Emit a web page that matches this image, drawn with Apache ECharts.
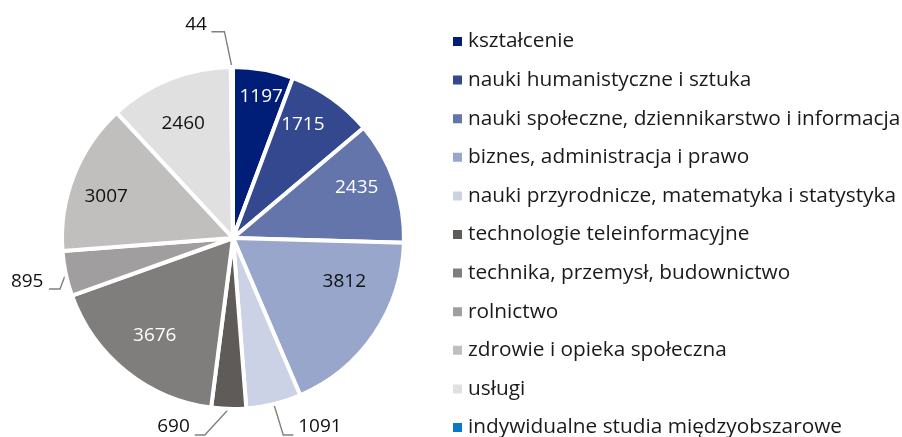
<!DOCTYPE html>
<html>
<head>
<meta charset="utf-8">
<script src="https://cdn.jsdelivr.net/npm/echarts@6/dist/echarts.min.js"></script>
<style>
html,body{margin:0;padding:0;background:#fff;}
#chart{width:902px;height:437px;}
</style>
</head>
<body>
<div id="chart"></div>
<script>
// Data
const categories = [
  'kształcenie',
  'nauki humanistyczne i sztuka',
  'nauki społeczne, dziennikarstwo i informacja',
  'biznes, administracja i prawo',
  'nauki przyrodnicze, matematyka i statystyka',
  'technologie teleinformacyjne',
  'technika, przemysł, budownictwo',
  'rolnictwo',
  'zdrowie i opieka społeczna',
  'usługi',
  'indywidualne studia międzyobszarowe'
];
const values = [1197, 1715, 2435, 3812, 1091, 690, 3676, 895, 3007, 2460, 44];

// Styles
const colors = ['#001e78','#33488f','#6475ab','#97a6ca','#ccd2e5','#5f5b59','#7f7e7c','#a09e9e','#c0bfbd','#e0e0e0','#0a78c8'];
const labelColors = ['#fff','#fff','#fff','#111','#111','#111','#fff','#111','#111','#111','#111'];
const insideLabel = [true,true,true,true,false,false,true,false,true,true,false];
// inside label placement: fraction of radius, angle offset (deg) from slice middle
const insideFrac = [0.846,0.78,0.78,0.70,0,0,0.73,0,0.78,0.73,0];
const insideOff  = [1,-3.6,-2.7,-12.6,0,0,0,0,-3.3,-1.7,0];
// outside label leader: [elbow radius px, angle offset deg, arm px, text gap px, direction, text dy]
const outerSpec = {
  4:  [203.3, -0.5, 10, 5, 1, -8],
  5:  [199, 6.7, 10, 5, -1, -8],
  7:  [180.4, -4.4, 11, 5.5, -1, -7.3],
  10: [206.5, -2.0, 13, 4.5, -1, -7]
};
const CX = 233, CY = 238, R = 171;
const FONT = '"Open Sans", "Noto Sans", sans-serif';

const total = values.reduce((a,b)=>a+b,0);
const midAngles = [];
{ let cum = 0; values.forEach(v => { midAngles.push((cum + v/2) / total * 2 * Math.PI); cum += v; }); }

const data = categories.map((name, i) => ({
  name,
  value: values[i],
  itemStyle: { color: colors[i] },
  label: insideLabel[i]
    ? { position: 'inside', color: labelColors[i] }
    : { position: 'outside', color: '#111' },
  labelLine: { show: !insideLabel[i] }
}));

const chart = echarts.init(document.getElementById('chart'), null, {renderer: 'canvas'});
chart.setOption({
  animation: false,
  legend: {
    orient: 'vertical',
    left: 451,
    top: 31,
    height: 440,
    padding: 0,
    itemWidth: 11,
    itemHeight: 11,
    itemGap: 17.6,
    icon: 'rect',
    selectedMode: false,
    textStyle: { fontFamily: FONT, fontSize: 20.8, color: '#1a1a1a', lineHeight: 21 },
    data: categories
  },
  series: [{
    type: 'pie',
    center: [CX, CY],
    radius: [0, R],
    startAngle: 90,
    clockwise: true,
    avoidLabelOverlap: false,
    itemStyle: { borderColor: '#fff', borderWidth: 4 },
    label: {
      show: true,
      formatter: '{c}',
      fontFamily: FONT,
      fontSize: 19
    },
    labelLine: {
      show: true,
      length: 20,
      length2: 10,
      lineStyle: { color: '#808080', width: 1.4 }
    },
    labelLayout: function (p) {
      const i = p.dataIndex;
      const a = midAngles[i];
      if (insideLabel[i]) {
        const ang = a + insideOff[i] * Math.PI / 180;
        return {
          x: CX + insideFrac[i] * R * Math.sin(ang),
          y: CY - insideFrac[i] * R * Math.cos(ang),
          align: 'center',
          verticalAlign: 'middle'
        };
      }
      const s = outerSpec[i];
      const ea = a + s[1] * Math.PI / 180;
      const ex = CX + s[0] * Math.sin(ea), ey = CY - s[0] * Math.cos(ea);
      const dir = s[4];
      const endX = ex + dir * s[2];
      return {
        x: endX + dir * s[3],
        y: ey + s[5],
        align: dir < 0 ? 'right' : 'left',
        verticalAlign: 'middle',
        labelLinePoints: [[CX + R * Math.sin(a), CY - R * Math.cos(a)], [ex, ey], [endX, ey]]
      };
    },
    emphasis: { disabled: true },
    data
  }]
});
</script>
</body>
</html>
